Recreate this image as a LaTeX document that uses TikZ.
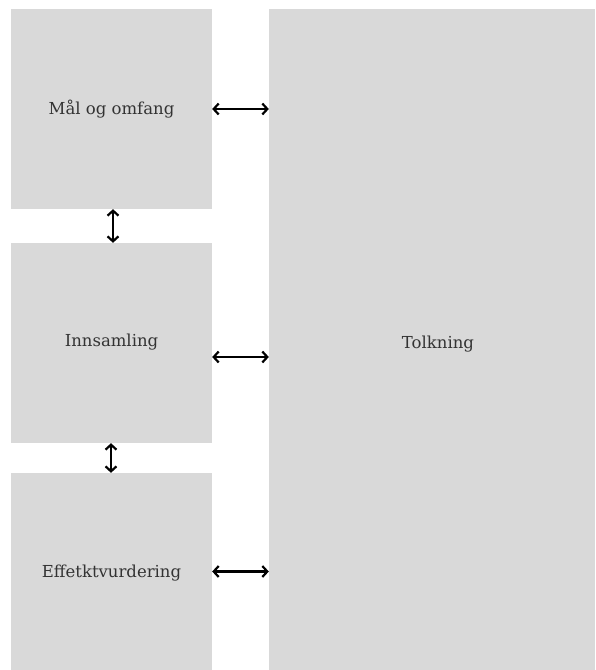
\documentclass[tikz,border=0pt]{standalone}
\usepackage{fontspec}
\setmainfont{DejaVu Serif}
\usetikzlibrary{arrows.meta}
\definecolor{boxgray}{HTML}{D9D9D9}
\definecolor{textgray}{HTML}{333333}
\tikzset{
  fase/.style={fill=boxgray, draw=none, inner sep=0pt},
  every label/.style={text=textgray, font=\fontsize{16.5}{19}\selectfont},
  pil/.style={{Straight Barb[length=5pt,width=11pt,line width=2.2pt]}-{Straight Barb[length=5pt,width=11pt,line width=2.2pt]}, line width=2.2pt}
}
\begin{document}
\begin{tikzpicture}[x=1pt,y=-1pt]
		\useasboundingbox (0,0) rectangle (595,670);
		% venstre kolonne
		\node[fase, minimum width=201pt, minimum height=200pt,
		  label={[yshift=0pt]center:Mål og omfang}] (maal) at (111.5,109) {};
		\node[fase, minimum width=201pt, minimum height=200pt,
		  label={[yshift=1pt]center:Innsamling}] (innsamling) at (111.5,343) {};
		\node[fase, minimum width=201pt, minimum height=197pt,
		  label={[yshift=-1.5pt]center:Effetktvurdering}] (effekt) at (111.5,571.5) {};
		% hoyre kolonne
		\node[fase, minimum width=326pt, minimum height=661pt,
		  label={[xshift=6pt,yshift=-4.5pt]center:Tolkning}] (tolkning) at (432,339.5) {};
		% piler
		\draw[pil] ([xshift=1.5pt]maal.south) -- ([xshift=1.5pt]innsamling.north);
		\draw[pil] ([xshift=-0.5pt]innsamling.south) -- ([xshift=-0.5pt]effekt.north);
		\draw[pil] (maal.east) -- (maal.east -| tolkning.west);
		\draw[pil] ([yshift=-14pt]innsamling.east) -- ([yshift=-14pt]innsamling.east -| tolkning.west);
		\draw[pil] (effekt.east) -- (effekt.east -| tolkning.west);
\end{tikzpicture}
\end{document}
